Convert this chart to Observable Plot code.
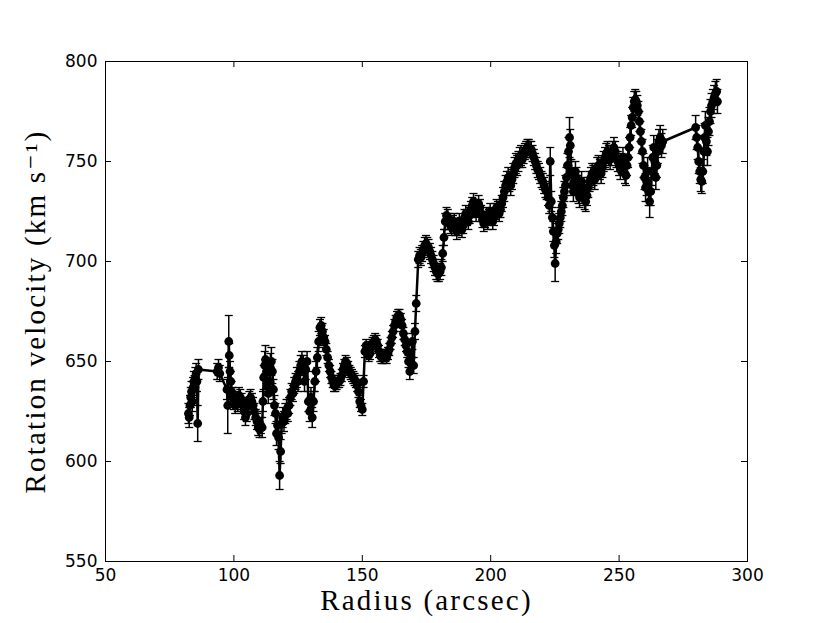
<!DOCTYPE html>
<html>
<head>
<meta charset="utf-8">
<script src="https://cdn.jsdelivr.net/npm/d3@7"></script>
<script src="https://cdn.jsdelivr.net/npm/@observablehq/plot@0.6"></script>
<style>
  html, body { margin: 0; padding: 0; background: #fff; }
  #chart svg { display: block; }
  .axis-title { letter-spacing: 2.2px; }
</style>
</head>
<body>
<div id="chart"></div>
<script>
// ---- Data ----
const radius = [
  82.3,82.6,82.9,83.2,83.5,83.8,84.1,84.4,84.7,85.0,85.3,85.6,85.9,86.2,
  93.5,94.0,94.5,97.3,97.6,98.0,98.2,98.5,98.8,99.1,99.5,
  100,100.5,101,101.5,102,102.5,103,103.5,104,104.5,105,105.5,106,106.5,107,107.5,108,108.5,109,109.5,110,110.5,
  111.0,111.3,111.6,112.0,112.3,112.7,113.0,113.4,113.8,114.2,114.6,115.0,115.4,115.8,116.2,116.6,117.0,117.4,117.8,118.2,118.6,
  119,119.5,120,120.5,121,121.5,122,122.5,123,123.5,124,124.5,125,125.5,126,126.5,127,127.5,128,128.5,129,129.5,130,130.5,131,131.5,132,132.5,133,133.5,134,134.5,135,
  135.5,136,136.5,137,137.5,138,138.5,139,139.5,140,140.5,141,141.5,142,142.5,143,143.5,144,144.5,145,145.5,146,146.5,147,147.5,148,148.5,149,149.5,150,
  150.5,151,151.5,152,152.5,153,153.5,154,154.5,155,155.5,156,156.5,157,157.5,158,158.5,159,159.5,160,160.5,161,161.5,162,162.5,163,163.5,164,164.5,165,165.5,166,166.5,167,167.5,168,168.5,169,169.5,170,170.5,
  171.0,171.8,172.3,172.8,173.3,173.8,174.3,174.8,175.3,175.8,176.3,176.8,177.3,177.8,178.3,178.8,179.3,179.8,180.3,180.8,181.3,181.8,182.3,182.8,
  183.3,183.8,184.3,184.8,185.3,185.8,186.3,186.8,187.3,187.8,188.3,188.8,189.3,189.8,190.3,190.8,191.3,191.8,192.3,192.8,
  193.3,193.8,194.3,194.8,195.3,195.8,196.3,196.8,197.3,197.8,198.3,198.8,199.3,199.8,200.3,200.8,201.3,201.8,202.3,202.8,
  203.3,203.8,204.3,204.8,205.3,205.8,206.3,206.8,207.3,207.8,208.3,208.8,209.3,209.8,210.3,210.8,211.3,211.8,212.3,212.8,
  213.3,213.8,214.3,214.8,215.3,215.8,216.3,216.8,217.3,217.8,218.3,218.8,219.3,219.8,220.3,220.8,221.3,221.8,222.3,222.8,
  223.2,223.6,224.0,224.4,224.8,225.1,225.5,225.9,226.3,226.7,227.1,227.5,227.9,228.3,228.7,229.1,229.5,229.9,230.3,230.7,
  231.0,231.4,231.8,232.2,232.6,233.0,233.4,233.8,234.2,234.6,235.0,235.4,235.8,236.2,236.6,237.0,237.5,238.0,238.5,239.0,
  239.5,240.0,240.5,241.0,241.5,242.0,242.5,243.0,243.5,244.0,244.5,245.0,245.5,246.0,246.5,247.0,247.5,248.0,248.5,249.0,
  249.5,250.0,250.5,251.0,251.5,252.0,252.3,252.7,
  253.1,253.5,253.9,254.3,254.7,255.1,255.5,255.9,256.3,256.7,257.1,257.5,257.9,258.3,258.7,259.1,259.5,259.9,260.3,260.7,
  261.1,261.5,261.9,262.3,262.7,263.1,263.5,263.9,264.3,264.7,265.1,265.5,266.0,266.5,267.0,
  279.8,280.2,280.6,281.0,281.4,281.8,282.2,282.6,283.0,283.3,283.6,284.0,284.4,284.8,285.2,285.6,286.0,286.5,287.0,287.5,288.0,288.3
];
const velocity = [
  624,622,628,632,635,630,637,640,638,642,644,640,619,646,
  645,647,644,636,628,660,653,645,640,635,632,
  630,628,631,629,633,632,630,628,625,622,624,628,631,632,630,628,625,622,620,617,616,618,
  617,630,642,648,651,645,638,634,640,647,650,645,636,628,624,614,618,612,593,605,619,
  622,620,624,626,624,628,632,635,634,638,640,642,640,645,648,650,648,640,646,650,630,625,632,622,630,640,645,652,660,667,668,665,662,
  660,656,652,648,645,642,640,638,638,639,640,640,641,643,646,648,650,649,647,645,644,643,642,641,640,638,635,630,628,626,
  640,655,658,656,653,654,657,659,660,661,660,658,655,653,652,652,653,653,652,654,656,659,662,665,668,670,672,673,673,671,668,664,661,658,655,650,645,652,660,648,665,
  679,701,703,702,704,706,708,709,708,707,705,703,701,699,697,695,694,694,695,697,704,712,720,723,
  722,720,718,717,719,720,717,715,717,720,718,716,718,722,724,722,720,723,726,728,
  730,727,724,726,729,727,724,721,719,721,723,720,722,725,723,720,722,725,727,726,
  724,726,729,732,735,738,740,742,740,738,741,744,747,749,748,750,752,753,751,753,
  755,756,757,757,756,756,754,752,750,748,746,745,743,741,740,738,736,735,732,728,
  750,730,722,715,708,699,710,714,716,719,722,725,728,732,735,738,742,748,755,762,
  758,745,738,735,740,745,742,738,734,732,736,740,737,733,731,730,733,737,740,742,
  744,743,741,744,747,748,746,744,747,750,752,754,755,753,751,753,755,757,755,752,
  750,748,746,749,752,748,744,743,
  748,752,757,762,768,772,777,780,781,780,778,775,770,765,760,755,748,742,737,740,
  745,735,730,735,745,752,757,750,742,748,755,760,762,758,760,
  767,762,757,750,745,741,740,745,755,762,768,760,755,765,770,775,778,780,782,784,785,780
];
const errorBar = [
  5,5,5,5,5,5,5,5,5,5,5,5,9,5,
  4,4,4,5,14,13,6,5,5,5,5,
  4,4,4,4,4,4,4,4,4,4,4,4,4,4,4,4,4,4,4,4,4,4,
  5,5,6,7,7,6,5,5,6,7,7,6,5,5,5,6,5,6,7,6,5,
  5,5,5,5,4,4,4,4,4,4,4,5,5,5,5,5,5,5,5,5,5,5,5,5,5,5,5,5,5,4,4,4,4,
  3,3,3,3,3,3,3,3,3,3,3,3,3,3,3,3,3,3,3,3,3,3,3,3,3,3,3,3,3,3,
  3,3,3,3,3,3,3,3,3,3,3,3,3,3,3,3,3,3,3,3,3,3,3,3,3,3,3,3,3,3,3,3,3,3,3,3,4,4,4,4,4,
  4,4,4,4,4,4,4,4,4,4,4,4,4,4,4,4,4,4,4,4,4,4,4,4,
  4,4,4,4,4,4,4,4,4,4,4,4,4,4,4,4,4,4,4,4,
  4,4,4,4,4,4,4,4,4,4,4,4,4,4,4,4,4,4,4,4,
  4,4,4,5,5,5,5,5,5,5,5,5,5,5,5,5,5,5,4,4,
  4,4,4,4,4,4,4,4,4,4,4,4,4,4,4,4,4,4,4,4,
  7,5,5,5,6,9,6,5,5,5,5,5,5,5,5,5,5,6,7,10,
  8,6,5,5,5,5,5,5,5,5,5,5,5,5,5,5,5,5,5,5,
  5,5,5,5,5,5,5,5,5,5,5,5,5,5,5,5,5,5,5,5,
  5,5,5,5,5,5,5,5,
  5,5,5,5,5,5,5,5,5,5,5,5,5,5,6,6,6,6,7,7,
  7,7,8,7,7,6,6,6,6,6,6,6,6,6,6,
  6,6,6,6,6,6,6,6,7,7,7,7,7,7,7,6,6,6,6,6,6,6
];
const xTicks = [50, 100, 150, 200, 250, 300];
const yTicks = [550, 600, 650, 700, 750, 800];
const xTitle = "Radius (arcsec)";
const yTitle = "Rotation velocity (km s\u207B\u00B9)";

// ---- Build table ----
const n = Math.min(radius.length, velocity.length, errorBar.length);
const rows = d3.range(n).map(i => ({r: radius[i], v: velocity[i], e: errorBar[i]}));

const W = 830, H = 623;
const mL = 105, mR = 83, mT = 61, mB = 62;
const plotW = W - mL - mR, plotH = H - mT - mB;
const tickLen = 6;

// horizontal cap symbol for error bars
const capSymbol = {
  draw(ctx, size) {
    const w = Math.sqrt(size / Math.PI);
    ctx.moveTo(-w, 0);
    ctx.lineTo(w, 0);
  }
};

const serif = "'Liberation Serif', 'DejaVu Serif', serif";

const chart = Plot.plot({
  width: W,
  height: H,
  marginLeft: mL,
  marginRight: mR,
  marginTop: mT,
  marginBottom: mB,
  style: {fontFamily: "'DejaVu Sans', sans-serif", background: "#fff", color: "#000"},
  x: {domain: [50, 300], axis: null},
  y: {domain: [550, 800], axis: null},
  marks: [
    // error bars
    Plot.ruleX(rows, {x: "r", y1: d => d.v - d.e, y2: d => d.v + d.e, stroke: "black", strokeWidth: 1.5}),
    Plot.dot(rows, {x: "r", y: d => d.v - d.e, symbol: capSymbol, r: 4, stroke: "black", fill: "none", strokeWidth: 1.3}),
    Plot.dot(rows, {x: "r", y: d => d.v + d.e, symbol: capSymbol, r: 4, stroke: "black", fill: "none", strokeWidth: 1.3}),
    // line
    Plot.line(rows, {x: "r", y: "v", stroke: "black", strokeWidth: 2.5}),
    // markers
    Plot.dot(rows, {x: "r", y: "v", r: 4.4, fill: "black", stroke: "none"}),
    // frame
    Plot.frame({stroke: "black", strokeWidth: 1}),
    // inward ticks on all four sides
    Plot.tickX(xTicks, {x: d => d, insetTop: plotH - tickLen, stroke: "black"}),
    Plot.tickX(xTicks, {x: d => d, insetBottom: plotH - tickLen, stroke: "black"}),
    Plot.tickY(yTicks, {y: d => d, insetRight: plotW - tickLen, stroke: "black"}),
    Plot.tickY(yTicks, {y: d => d, insetLeft: plotW - tickLen, stroke: "black"}),
    // tick labels
    Plot.axisX(xTicks, {tickSize: 0, tickPadding: 7, fontSize: 17, label: null, fill: "black"}),
    Plot.axisY(yTicks, {tickSize: 0, tickPadding: 8, fontSize: 17, label: null, fill: "black"}),
    // axis titles
    Plot.text([xTitle], {frameAnchor: "bottom", textAnchor: "middle", dy: 48, text: d => d, fontSize: 29,
      fontFamily: serif, fill: "black", className: "axis-title"}),
    Plot.text([yTitle], {frameAnchor: "left", textAnchor: "middle", dx: -70, rotate: -90, text: d => d, fontSize: 29,
      fontFamily: serif, fill: "black", className: "axis-title"})
  ]
});
document.getElementById("chart").appendChild(chart);
</script>
</body>
</html>
